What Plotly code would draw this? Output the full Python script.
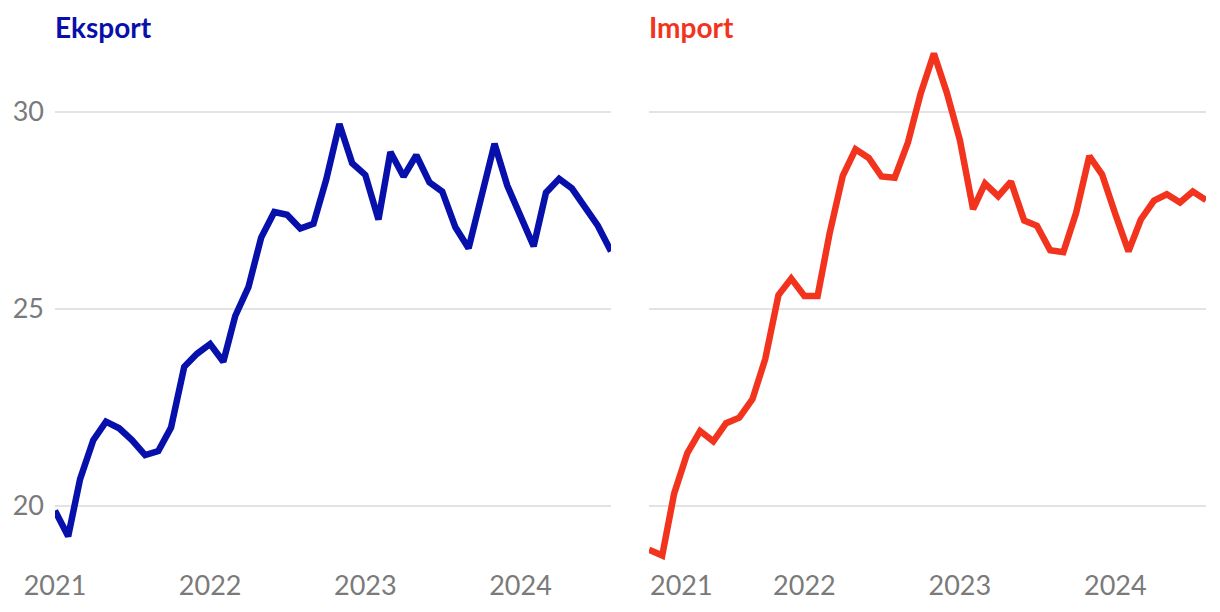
import pandas as pd
import plotly.graph_objects as go
from plotly.subplots import make_subplots

months = pd.date_range("2021-01-01", "2024-08-01", freq="MS")

eksport = [19.87, 19.22, 20.67, 21.66, 22.13, 21.96, 21.66, 21.28, 21.38, 21.98, 23.52, 23.85,
           24.10, 23.65, 24.81, 25.54, 26.80, 27.45, 27.38, 27.03, 27.15, 28.27, 29.68, 28.69,
           28.39, 27.26, 28.97, 28.35, 28.89, 28.20, 27.97, 27.06, 26.53, 27.87, 29.18, 28.12,
           27.33, 26.58, 27.94, 28.29, 28.05, 27.57, 27.10, 26.45]

import_ = [18.88, 18.73, 20.30, 21.33, 21.89, 21.63, 22.09, 22.23, 22.70, 23.72, 25.34, 25.76,
           25.32, 25.32, 26.90, 28.37, 29.04, 28.82, 28.35, 28.32, 29.21, 30.46, 31.47, 30.49,
           29.28, 27.52, 28.17, 27.85, 28.22, 27.23, 27.10, 26.48, 26.43, 27.43, 28.87, 28.40,
           27.40, 26.45, 27.26, 27.74, 27.90, 27.69, 27.97, 27.75]

titles = ["Eksport", "Import"]
year_labels = ["2021", "2022", "2023", "2024"]
y_ticks = [20, 25, 30]

BLUE = "#0710aa"
RED = "#f2341e"
GRAY = "#7a7a7a"
GRID = "#e3e3e3"
FONT = "Lato, 'Open Sans', sans-serif"

fig = make_subplots(rows=1, cols=2, shared_yaxes=True, horizontal_spacing=0.033)

fig.add_trace(go.Scatter(x=months, y=eksport, mode="lines", cliponaxis=False,
                         line=dict(color=BLUE, width=6.5), hoverinfo="skip"), row=1, col=1)
fig.add_trace(go.Scatter(x=months, y=import_, mode="lines", cliponaxis=False,
                         line=dict(color=RED, width=6.5), hoverinfo="skip"), row=1, col=2)

W, H = 1220, 612
ml, mr, mt, mb = 55, 14, 40, 52
pw = W - ml - mr
left_dom = [0, (611 - ml) / pw]
right_dom = [(649 - ml) / pw, 1]

year_ticks = [pd.Timestamp(f"{y}-01-01") for y in year_labels]
# first label of the right panel is justified inside the plot area
right_ticks = [year_ticks[0] + pd.Timedelta(days=76)] + year_ticks[1:]

xcommon = dict(range=[months[0], months[-1]], showgrid=False, zeroline=False,
               showline=False, ticks="", tickfont=dict(family=FONT, size=27, color=GRAY),
               ticklabelstandoff=7)
fig.update_xaxes(domain=left_dom, tickvals=year_ticks, ticktext=year_labels,
                 row=1, col=1, **xcommon)
fig.update_xaxes(domain=right_dom, tickvals=right_ticks, ticktext=year_labels,
                 row=1, col=2, **xcommon)

y_lo = 20 - (H - mb - 505.5) / 39.4
y_hi = 20 + (505.5 - mt) / 39.4
fig.update_yaxes(range=[y_lo, y_hi], tickvals=y_ticks, showgrid=True, gridcolor=GRID,
                 gridwidth=2, zeroline=False, showline=False, ticks="",
                 tickfont=dict(family=FONT, size=27, color=GRAY), ticklabelstandoff=10)
fig.update_yaxes(showticklabels=False, row=1, col=2)

fig.add_annotation(text=f"<b>{titles[0]}</b>", xref="paper", yref="paper",
                   x=left_dom[0], y=1, xanchor="left", yanchor="bottom", yshift=-6, xshift=-2,
                   showarrow=False, font=dict(family=FONT, size=28, color=BLUE))
fig.add_annotation(text=f"<b>{titles[1]}</b>", xref="paper", yref="paper",
                   x=right_dom[0], y=1, xanchor="left", yanchor="bottom", yshift=-6, xshift=-2,
                   showarrow=False, font=dict(family=FONT, size=28, color=RED))

fig.update_layout(width=W, height=H, margin=dict(l=ml, r=mr, t=mt, b=mb),
                  plot_bgcolor="white", paper_bgcolor="white", showlegend=False)

fig.write_html("out.html")
